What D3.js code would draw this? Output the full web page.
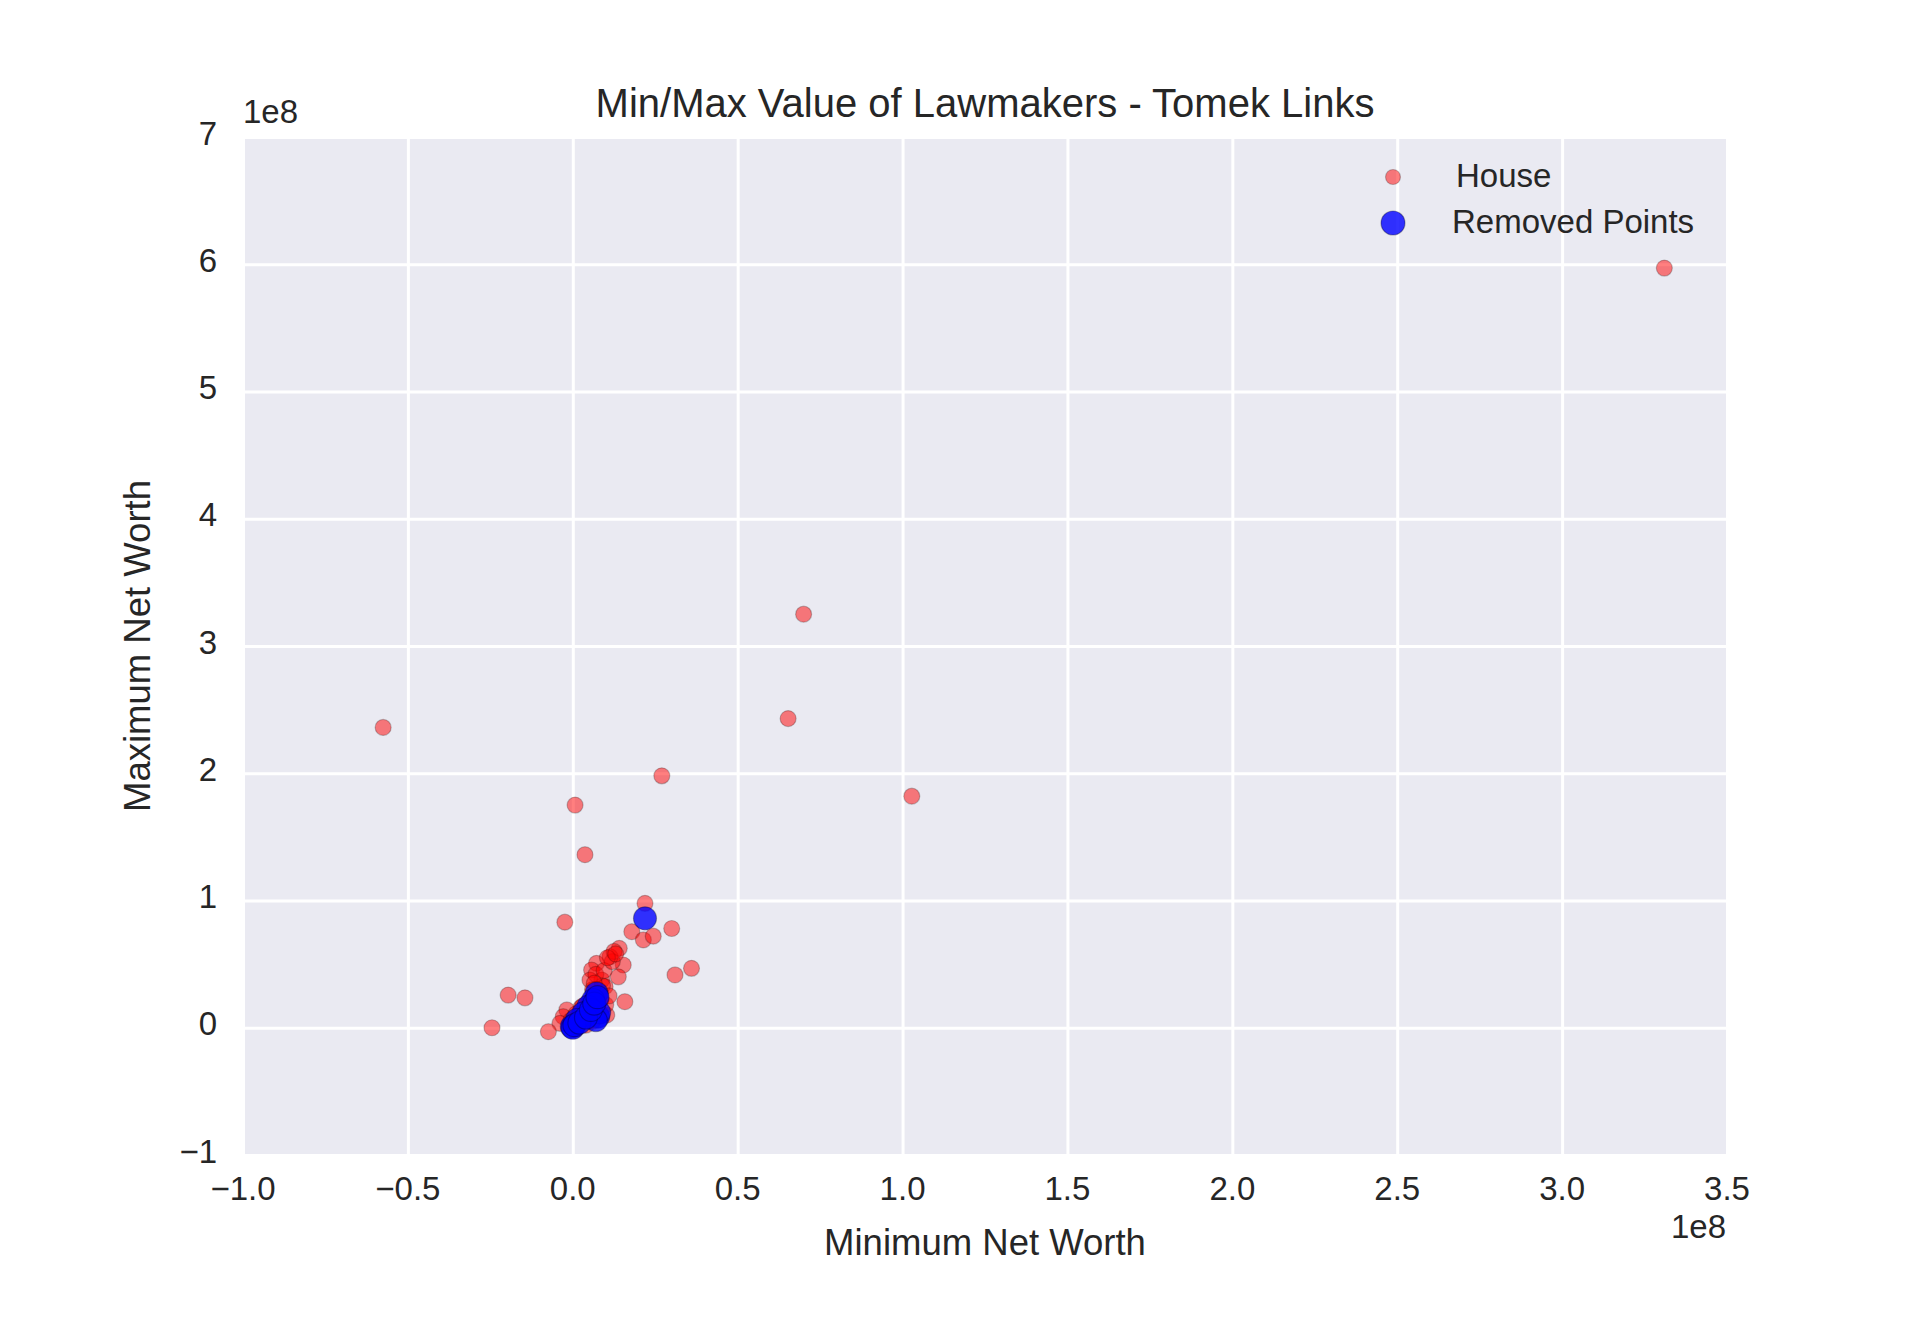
<!DOCTYPE html>
<html>
<head>
<meta charset="utf-8">
<script src="https://cdn.jsdelivr.net/npm/d3@7"></script>
<style>
  html, body { margin: 0; padding: 0; background: #ffffff; }
  svg { display: block; }
  text { font-family: "Liberation Sans", Arial, sans-serif; fill: #262626; }
</style>
</head>
<body>
<svg id="chart" width="1920" height="1320"></svg>
<script>
// ---- Data (values in units of 1e8) ----
const houseX = [3.31, 0.70, 0.653, -0.575, 0.27, 1.028, 0.007, 0.037, -0.024, 0.219,
  0.30, 0.179, 0.214, 0.244, 0.36, 0.31, 0.158, 0.141, 0.113, 0.153,
  0.138, 0.072, 0.057, 0.088, 0.052, 0.098, 0.103, -0.018, -0.029, -0.039,
  -0.074, -0.196, -0.145, -0.245, 0.02, 0.03, 0.045, 0.06, 0.08, 0.09,
  0.07, 0.10, 0.085, 0.04, 0.0, 0.01, -0.01, 0.015, 0.05, 0.06,
  0.095, 0.12, 0.125, 0.105, 0.065, 0.075, 0.035, 0.025, 0.11, 0.13,
  -0.005, 0.01, 0.03];
const houseY = [5.97, 3.25, 2.43, 2.36, 1.98, 1.82, 1.75, 1.36, 0.83, 0.978,
  0.78, 0.755, 0.69, 0.72, 0.467, 0.415, 0.205, 0.624, 0.558, 0.493,
  0.40, 0.506, 0.454, 0.375, 0.375, 0.323, 0.10, 0.14, 0.087, 0.035,
  -0.031, 0.257, 0.235, 0.0, 0.05, 0.12, 0.20, 0.30, 0.28, 0.33,
  0.42, 0.18, 0.22, 0.02, 0.01, -0.01, 0.02, 0.09, 0.10, 0.05,
  0.45, 0.52, 0.60, 0.55, 0.35, 0.15, 0.07, 0.16, 0.25, 0.58,
  0.06, 0.11, 0.17];
const removedX = [0.219, 0.072, 0.062, 0.047, 0.032, 0.012, -0.003, 0.077, 0.08, 0.07,
  0.0, 0.005, 0.02, 0.04, 0.055, 0.065, 0.075];
const removedY = [0.86, 0.27, 0.218, 0.165, 0.113, 0.061, 0.008, 0.087, 0.12, 0.06,
  0.0, 0.02, 0.04, 0.08, 0.14, 0.19, 0.24];

const xTicks = [-1.0, -0.5, 0.0, 0.5, 1.0, 1.5, 2.0, 2.5, 3.0, 3.5];
const yTicks = [-1, 0, 1, 2, 3, 4, 5, 6, 7];
const legendLabels = ["House", "Removed Points"];

const titleText = "Min/Max Value of Lawmakers - Tomek Links";
const xLabelText = "Minimum Net Worth";
const yLabelText = "Maximum Net Worth";
const offsetText = "1e8";

// ---- Layout ----
const L = 243, T = 137, R = 1727, B = 1155;
const svg = d3.select("#chart");

const x = d3.scaleLinear().domain([-1.0, 3.5]).range([L, R]);
const y = d3.scaleLinear().domain([-1, 7]).range([B, T]);

const fmtMinus = s => s.replace("-", "\u2212");

// background
svg.append("rect").attr("x", L).attr("y", T).attr("width", R - L).attr("height", B - T)
  .attr("fill", "#EAEAF2");

// grid via axes
const gx = svg.append("g").attr("transform", `translate(0,${B})`)
  .call(d3.axisBottom(x).tickValues(xTicks).tickSize(-(B - T)).tickFormat(""));
gx.select(".domain").remove();
gx.selectAll("line").attr("stroke", "#ffffff").attr("stroke-width", 3);

const gy = svg.append("g").attr("transform", `translate(${L},0)`)
  .call(d3.axisLeft(y).tickValues(yTicks).tickSize(-(R - L)).tickFormat(""));
gy.select(".domain").remove();
gy.selectAll("line").attr("stroke", "#ffffff").attr("stroke-width", 3);

// tick labels
svg.append("g").selectAll("text").data(xTicks).join("text")
  .attr("x", d => x(d)).attr("y", 1200)
  .attr("text-anchor", "middle").attr("font-size", 33)
  .text(d => fmtMinus(d3.format(".1f")(d)));

svg.append("g").selectAll("text").data(yTicks).join("text")
  .attr("x", 217).attr("y", d => y(d) - 4)
  .attr("text-anchor", "end").attr("dominant-baseline", "central").attr("font-size", 33)
  .text(d => fmtMinus(String(d)));

// offset texts
svg.append("text").attr("x", 243).attr("y", 123).attr("font-size", 33).text(offsetText);
svg.append("text").attr("x", 1726).attr("y", 1238).attr("text-anchor", "end")
  .attr("font-size", 33).text(offsetText);

// titles
svg.append("text").attr("x", (L + R) / 2).attr("y", 117).attr("text-anchor", "middle")
  .attr("font-size", 40).text(titleText);
svg.append("text").attr("x", (L + R) / 2).attr("y", 1255).attr("text-anchor", "middle")
  .attr("font-size", 36.5).text(xLabelText);
svg.append("text").attr("transform", `translate(150,${(T + B) / 2}) rotate(-90)`)
  .attr("text-anchor", "middle").attr("font-size", 36.5).text(yLabelText);

// points
const plot = svg.append("g");
const house = houseX.map((v, i) => ({ x: v, y: houseY[i] }));
const removed = removedX.map((v, i) => ({ x: v, y: removedY[i] }));

plot.selectAll("circle.house").data(house).join("circle").attr("class", "house")
  .attr("cx", d => x(d.x)).attr("cy", d => y(d.y)).attr("r", 8)
  .attr("fill", "#ff0000").attr("fill-opacity", 0.5)
  .attr("stroke", "#000").attr("stroke-opacity", 0.22).attr("stroke-width", 1.2);

plot.selectAll("circle.removed").data(removed).join("circle").attr("class", "removed")
  .attr("cx", d => x(d.x)).attr("cy", d => y(d.y)).attr("r", 11.5)
  .attr("fill", "#0000ff").attr("fill-opacity", 0.8)
  .attr("stroke", "#000").attr("stroke-opacity", 0.3).attr("stroke-width", 1.2);

// legend
const leg = svg.append("g");
leg.append("circle").attr("cx", 1393).attr("cy", 177).attr("r", 7.5)
  .attr("fill", "#ff0000").attr("fill-opacity", 0.5)
  .attr("stroke", "#000").attr("stroke-opacity", 0.22).attr("stroke-width", 1.2);
leg.append("circle").attr("cx", 1393).attr("cy", 223).attr("r", 12)
  .attr("fill", "#0000ff").attr("fill-opacity", 0.8)
  .attr("stroke", "#000").attr("stroke-opacity", 0.3).attr("stroke-width", 1.2);
leg.append("text").attr("x", 1456).attr("y", 187).attr("font-size", 33).text(legendLabels[0]);
leg.append("text").attr("x", 1452).attr("y", 233).attr("font-size", 33).text(legendLabels[1]);
</script>
</body>
</html>
